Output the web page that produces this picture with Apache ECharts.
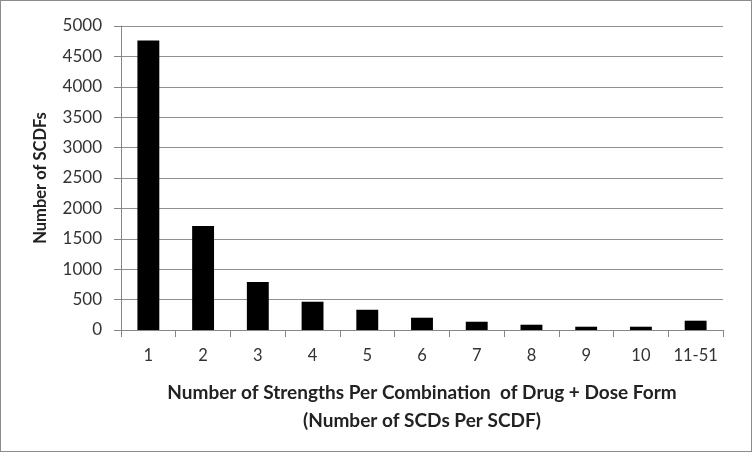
<!DOCTYPE html>
<html>
<head>
<meta charset="utf-8">
<script src="https://cdn.jsdelivr.net/npm/echarts@6/dist/echarts.min.js"></script>
<style>
html,body{margin:0;padding:0;background:#fff;}
#c{position:absolute;left:0;top:0;width:750px;height:450px;border:1px solid #8c8c8c;}
</style>
</head>
<body>
<div id="c"></div>
<script>
const categories = ['1','2','3','4','5','6','7','8','9','10','11-51'];
const counts = [4760, 1710, 790, 465, 333, 202, 136, 87, 54, 54, 153];
const yTicks = {min: 0, max: 5000, interval: 500};
const xTitle = 'Number of Strengths Per Combination  of Drug + Dose Form\n(Number of SCDs Per SCDF)';
const yTitle = 'Number of SCDFs';

const chart = echarts.init(document.getElementById('c'), null, {renderer: 'canvas'});
const font = 'Lato, "Open Sans", sans-serif';
chart.setOption({
  animation: false,
  textStyle: {fontFamily: font},
  grid: {left: 120, right: 28, top: 25, bottom: 121, containLabel: false},
  xAxis: {
    type: 'category',
    data: categories,
    axisLine: {lineStyle: {color: '#868686', width: 1}},
    axisTick: {show: true, length: 7, interval: 0, lineStyle: {color: '#868686'}},
    axisLabel: {color: '#333', fontSize: 16.5, margin: 17, interval: 0, fontFamily: font},
    name: xTitle,
    nameLocation: 'middle',
    nameGap: 49,
    nameTextStyle: {color: '#222', fontSize: 19, fontWeight: 'bold', lineHeight: 28, fontFamily: font}
  },
  yAxis: {
    type: 'value',
    min: yTicks.min, max: yTicks.max, interval: yTicks.interval,
    axisLine: {show: true, lineStyle: {color: '#868686'}},
    axisTick: {show: true, length: 7, lineStyle: {color: '#868686'}},
    splitLine: {lineStyle: {color: '#8f8f8f', width: 1}},
    axisLabel: {color: '#333', fontSize: 17, margin: 19, fontFamily: font, formatter: v => String(v)},
    name: yTitle,
    nameLocation: 'middle',
    nameGap: 72,
    nameTextStyle: {color: '#222', fontSize: 16.5, fontWeight: 'bold', fontFamily: font}
  },
  series: [{
    type: 'bar',
    data: counts,
    barWidth: '40%',
    itemStyle: {color: '#000'}
  }]
});
</script>
</body>
</html>
